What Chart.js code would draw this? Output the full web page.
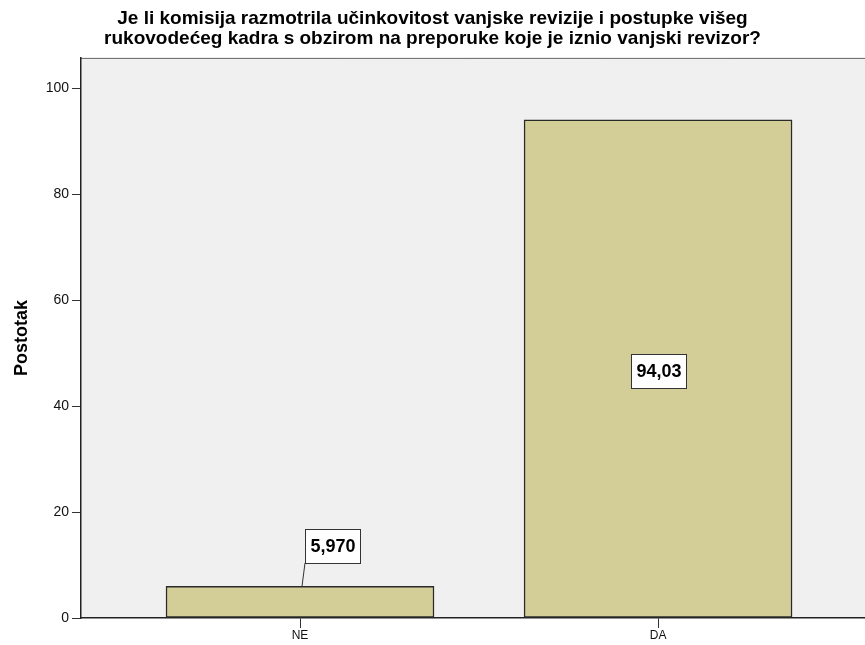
<!DOCTYPE html>
<html>
<head>
<meta charset="utf-8">
<script src="https://cdn.jsdelivr.net/npm/chart.js@4"></script>
<style>
  html, body { margin: 0; padding: 0; background: #fff; }
  #wrap { width: 865px; height: 645px; }
</style>
</head>
<body>
<div id="wrap"><canvas id="chart" width="865" height="645"></canvas></div>
<script>
var categories = ['NE', 'DA'];
var percents = [5.970, 94.03];
var yTicks = [0, 20, 40, 60, 80, 100];
var titleLines = [
    'Je li komisija razmotrila učinkovitost vanjske revizije i postupke višeg',
    'rukovodećeg kadra s obzirom na preporuke koje je iznio vanjski revizor?'
];

var FONT = '"Liberation Sans", Arial, sans-serif';

// plot background + top frame line
var plotBg = {
    id: 'plotBg',
    beforeDraw: function(chart) {
        var a = chart.chartArea, ctx = chart.ctx;
        ctx.save();
        ctx.fillStyle = '#f0f0f0';
        ctx.fillRect(a.left, a.top, a.right - a.left, a.bottom - a.top);
        ctx.strokeStyle = '#666';
        ctx.lineWidth = 1;
        ctx.beginPath();
        ctx.moveTo(a.left, a.top + 0.5);
        ctx.lineTo(a.right, a.top + 0.5);
        ctx.stroke();
        ctx.restore();
    }
};

// boxed value labels like SPSS
var valueBoxes = {
    id: 'valueBoxes',
    afterDatasetsDraw: function(chart) {
        var ctx = chart.ctx;
        var meta = chart.getDatasetMeta(0);
        ctx.save();
        ctx.font = 'bold 18px ' + FONT;
        ctx.textBaseline = 'middle';
        ctx.textAlign = 'center';
        meta.data.forEach(function(bar, i) {
            var txt = percents[i].toPrecision(4).replace('.', ',');
            var w = Math.round(ctx.measureText(txt).width + 10);
            var h = 34;
            var bx, by;
            var barH = bar.base - bar.y;
            if (barH > h + 10) {
                bx = Math.round(bar.x - w / 2);
                by = Math.round((bar.y + bar.base) / 2 - h / 2 + 2);
            } else {
                bx = Math.round(bar.x + 5);
                by = Math.round(bar.y - 23 - h);
                ctx.strokeStyle = '#333';
                ctx.lineWidth = 1;
                ctx.beginPath();
                ctx.moveTo(bar.x + 2, bar.y);
                ctx.lineTo(bar.x + 5, by + h);
                ctx.stroke();
            }
            ctx.fillStyle = '#fff';
            ctx.fillRect(bx, by, w, h);
            ctx.strokeStyle = '#333';
            ctx.lineWidth = 1;
            ctx.strokeRect(bx + 0.5, by + 0.5, w, h);
            ctx.fillStyle = '#000';
            ctx.fillText(txt, bx + w / 2 + 0.5, by + h / 2 + 1);
        });
        ctx.restore();
    }
};

var ctx = document.getElementById('chart').getContext('2d');
var myChart = new Chart(ctx, {
    type: 'bar',
    data: {
        datasets: [{
            label: 'Postotak',
            data: categories.map(function(c, i) { return { x: i, y: percents[i] }; }),
            backgroundColor: '#d3ce97',
            borderColor: '#2a2a2a',
            borderWidth: 1.5,
            barThickness: 268,
            borderSkipped: false
        }]
    },
    options: {
        responsive: false,
        animation: false,
        layout: { padding: 0 },
        plugins: {
            legend: { display: false },
            tooltip: { enabled: false },
            title: {
                display: true,
                text: titleLines,
                color: '#000',
                font: { family: FONT, size: 19, weight: 'bold', lineHeight: 1.05 },
                padding: { top: 9, bottom: 9 }
            }
        },
        scales: {
            x: {
                type: 'linear',
                offset: false,
                min: -0.6117,
                max: 1.578,
                afterBuildTicks: function(scale) {
                    scale.ticks = categories.map(function(c, i) { return { value: i }; });
                },
                afterFit: function(scale) { scale.height = 27; },
                ticks: {
                    color: '#111',
                    font: { family: FONT, size: 12 },
                    padding: 0,
                    callback: function(v) { return categories[v]; }
                },
                grid: { offset: false, drawOnChartArea: false, drawTicks: true, tickLength: 10, color: '#333' },
                border: { color: '#222', width: 1.5 }
            },
            y: {
                min: 0,
                max: 105.7,
                afterBuildTicks: function(scale) {
                    scale.ticks = yTicks.map(function(v) { return { value: v }; });
                },
                afterFit: function(scale) { scale.width = 81; },
                title: {
                    display: true,
                    text: 'Postotak',
                    color: '#000',
                    font: { family: FONT, size: 18, weight: 'bold', lineHeight: 1.2 },
                    padding: { top: 11, bottom: 0 }
                },
                ticks: {
                    color: '#111',
                    font: { family: FONT, size: 14 },
                    padding: 3
                },
                grid: { drawOnChartArea: false, drawTicks: true, tickLength: 9, color: '#333' },
                border: { color: '#222', width: 1.5 }
            }
        }
    },
    plugins: [plotBg, valueBoxes]
});
</script>
</body>
</html>
